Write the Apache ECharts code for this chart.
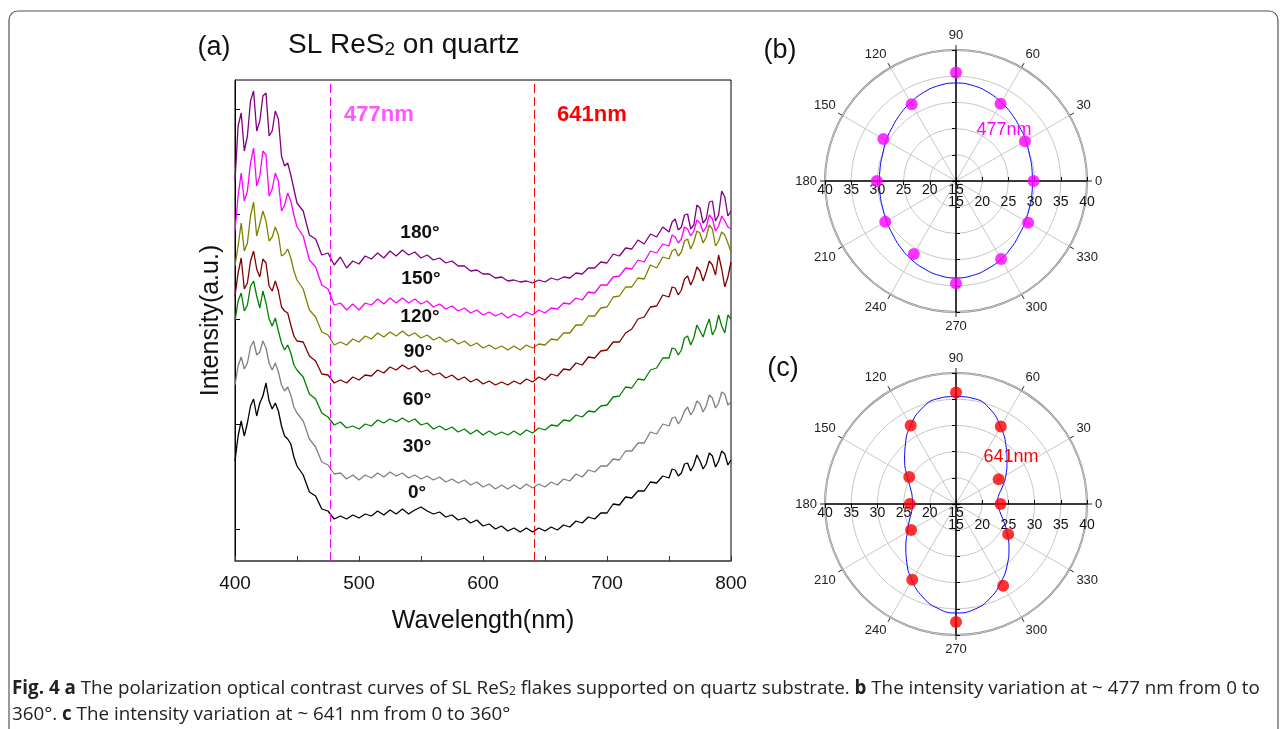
<!DOCTYPE html>
<html>
<head>
<meta charset="utf-8">
<script src="https://cdn.jsdelivr.net/npm/echarts@6/dist/echarts.min.js"></script>
<style>
html, body { margin: 0; padding: 0; background: #fff; }
#main { width: 1284px; height: 729px; }
</style>
</head>
<body>
<div id="main"></div>
<script>
// wavelength (nm): 2.5 nm at the noisy ends, 5 nm in the middle
var wavelength = [400,402.5,405,407.5,410,412.5,415,417.5,420,422.5,425,427.5,430,432.5,435,437.5,440,442.5,445,447.5,450,
  455,460,465,470,475,480,485,490,495,
  500,505,510,515,520,525,530,535,540,545,550,555,560,565,570,575,580,585,590,595,
  600,605,610,615,620,625,630,635,640,645,650,655,660,665,670,675,680,685,690,695,
  700,705,710,715,720,725,730,735,740,745,
  750,752.5,755,757.5,760,762.5,765,767.5,770,772.5,775,777.5,780,782.5,785,787.5,790,792.5,795,797.5,800];

// stacked contrast curves (arbitrary units, offset per angle)
var deg180 = [38.0,43.5,44.8,41.0,42.5,46.0,47.0,43.0,44.0,46.5,46.8,42.5,43.0,45.0,44.2,40.5,39.5,39.8,38.6,37.2,35.8,
  35.0,32.6,32.2,30.6,30.8,29.6,30.4,29.3,30.0,
  29.7,30.5,30.2,30.8,30.3,31.0,30.5,31.1,30.6,30.9,30.3,30.6,30.1,30.3,29.8,30.0,29.5,29.5,29.0,29.1,
  28.7,28.7,28.3,28.4,28.0,28.1,27.9,28.0,27.8,28.1,27.9,28.3,28.1,28.4,28.3,28.8,28.7,29.3,29.3,29.9,
  29.8,30.7,30.5,31.3,31.2,32.1,31.7,32.7,32.4,33.4,
  32.9,33.9,34.2,33.1,33.4,34.6,34.7,33.2,33.6,35.6,35.3,33.8,34.2,35.9,36.0,34.0,34.6,37.0,36.4,34.5,35.0];
var deg150 = [33.0,36.5,38.8,36.0,37.0,39.8,41.3,37.5,38.5,41.0,40.6,36.5,37.2,38.8,38.0,35.0,35.6,36.8,36.0,34.6,33.4,
  32.5,30.1,29.4,27.6,27.2,25.6,25.8,25.1,25.7,
  25.1,25.8,25.6,26.2,25.7,26.3,25.8,26.3,25.8,26.2,25.7,26.0,25.4,25.7,25.2,25.5,25.0,25.3,24.8,25.1,
  24.6,24.9,24.5,24.8,24.3,24.7,24.4,24.9,24.6,25.1,24.8,25.3,25.2,25.8,25.7,26.3,26.1,26.9,26.8,27.6,
  27.6,28.4,28.5,29.3,29.2,30.1,29.9,31.0,30.8,31.7,
  31.5,32.6,32.4,31.8,32.2,33.4,33.2,32.5,33.0,34.1,33.8,32.9,33.4,34.6,34.2,33.0,33.5,34.5,34.0,33.4,33.2];
var deg120 = [29.5,31.5,33.8,31.0,31.8,34.5,35.9,32.5,33.7,35.0,34.0,32.0,32.4,33.4,32.6,30.5,30.7,31.2,30.3,29.0,28.1,
  27.2,25.1,24.4,22.9,22.6,21.6,21.9,21.6,22.2,
  21.9,22.5,22.2,22.8,22.4,22.9,22.5,23.0,22.5,22.8,22.3,22.6,22.1,22.4,21.9,22.2,21.7,22.0,21.5,21.8,
  21.3,21.6,21.2,21.5,21.1,21.5,21.1,21.6,21.3,21.7,21.6,22.2,22.1,22.8,22.8,23.6,23.6,24.5,24.5,25.3,
  25.4,26.4,26.5,27.4,27.4,28.3,28.2,29.6,29.3,30.4,
  30.2,31.0,31.2,30.5,30.9,32.0,32.2,31.2,31.9,33.0,32.8,31.8,32.4,33.6,33.2,31.5,32.0,32.9,32.6,31.8,30.9];
var deg90 = [26.5,28.8,30.3,27.2,27.8,30.0,31.0,29.2,28.4,30.2,29.8,27.5,27.0,28.0,27.0,25.4,25.0,24.8,23.6,22.5,22.0,
  21.9,20.5,20.0,18.7,18.6,17.8,18.1,17.8,18.4,
  18.1,18.6,18.5,19.1,18.8,19.4,19.1,19.6,19.2,19.5,18.9,19.1,18.6,18.8,18.3,18.6,18.1,18.4,17.9,18.2,
  17.7,18.0,17.6,17.9,17.6,18.0,17.7,18.2,17.9,18.4,18.1,18.7,18.5,19.2,19.1,19.8,19.6,20.4,20.3,21.0,
  21.1,21.9,21.9,22.8,23.2,24.2,24.4,25.4,25.5,26.6,
  26.4,27.4,27.3,26.6,27.1,28.2,28.5,27.6,28.3,29.4,29.0,28.0,28.9,30.0,29.6,28.6,30.6,29.2,27.4,28.4,29.9];
var deg60 = [24.0,26.0,26.8,25.0,25.6,27.5,28.0,26.5,25.3,27.0,25.8,24.2,23.5,24.3,23.0,21.8,21.1,21.6,20.8,19.6,19.1,
  18.4,16.7,16.2,14.8,14.4,13.6,13.9,13.3,13.5,
  13.2,13.7,13.5,14.1,13.8,14.2,13.9,14.3,13.9,14.2,13.6,13.8,13.2,13.5,13.1,13.4,12.9,13.2,12.7,13.1,
  12.6,13.0,12.6,12.9,12.6,13.0,12.6,13.1,12.8,13.3,13.1,13.6,13.5,14.1,14.0,14.6,14.4,15.0,14.9,15.5,
  15.6,16.4,16.5,17.4,17.3,18.2,18.1,19.1,19.3,20.3,
  20.3,21.3,21.2,20.6,21.1,22.3,22.5,21.6,22.3,23.6,23.0,22.4,23.4,24.2,22.6,23.2,24.6,23.5,22.8,24.6,24.2];
var deg30 = [17.6,19.5,20.4,19.2,19.8,21.4,22.0,20.6,20.9,22.0,21.3,19.8,19.1,19.8,18.9,17.6,17.0,17.4,16.6,15.4,14.8,
  14.0,12.2,11.4,9.9,9.6,8.7,8.8,8.2,8.6,
  8.1,8.6,8.3,8.8,8.4,8.9,8.5,8.8,8.3,8.6,8.2,8.5,8.1,8.4,7.9,8.2,7.8,8.1,7.6,7.9,
  7.4,7.7,7.2,7.6,7.2,7.6,7.2,7.7,7.3,7.7,7.4,7.9,7.6,8.2,8.0,8.7,8.4,9.1,8.9,9.5,
  9.5,10.2,10.1,11.0,11.0,11.8,11.8,12.9,12.7,13.7,
  13.5,14.3,14.4,13.7,14.2,15.0,15.4,14.6,15.1,16.0,15.7,14.9,15.5,16.6,16.3,15.3,15.8,16.9,16.7,15.6,15.9];
var deg0 = [10.0,12.5,14.0,12.5,13.8,15.5,16.2,14.5,15.8,16.5,17.8,16.0,15.2,15.8,15.0,13.5,12.5,12.2,11.7,10.4,9.5,
  8.6,6.9,6.5,5.2,5.0,4.2,4.5,4.2,4.6,
  4.3,4.7,4.5,5.0,4.6,5.1,4.7,5.2,4.7,5.1,5.4,5.0,4.7,4.9,4.4,4.6,4.1,4.3,3.8,4.1,
  3.5,3.7,3.2,3.5,3.0,3.3,2.9,3.3,2.9,3.3,3.0,3.4,3.1,3.6,3.4,4.0,3.8,4.4,4.2,4.8,
  4.8,5.7,5.6,6.4,6.3,7.0,7.0,7.9,7.8,8.5,
  8.3,9.2,9.1,8.5,8.8,9.7,9.8,9.0,9.6,10.6,10.0,9.2,9.7,10.8,10.5,9.4,10.0,11.0,10.7,9.6,10.1];

var curveNames = ['0°', '30°', '60°', '90°', '120°', '150°', '180°'];
var curveColors = ['#000000', '#808080', '#008000', '#800000', '#808000', '#ff00ff', '#800080'];
var yTicks = [3.17, 13.67, 24.17, 34.67, 45.17];
var markWavelengths = [477, 641];

// polar panels: measured points every 30 deg and fitted curve every 10 deg
var dotAngles = [0, 30, 60, 90, 120, 150, 180, 210, 240, 270, 300, 330];
var dots477 = [29.8, 30.2, 32.0, 35.7, 31.9, 31.0, 30.1, 30.6, 31.1, 34.5, 32.2, 30.9];
var dots641 = [23.5, 24.4, 32.1, 36.3, 32.3, 25.3, 23.8, 24.9, 31.7, 37.5, 33.0, 26.5];
var fitAngles = [0,10,20,30,40,50,60,70,80,90,100,110,120,130,140,150,160,170,180,
  190,200,210,220,230,240,250,260,270,280,290,300,310,320,330,340,350,360];
var fit477 = [29.6,29.7,29.9,30.4,30.9,31.6,32.3,33.0,33.5,33.7,33.5,33.0,32.3,31.6,30.9,30.4,29.9,29.7,29.6,
  29.7,29.9,30.3,30.8,31.5,32.2,32.8,33.3,33.5,33.3,32.8,32.2,31.5,30.8,30.3,29.9,29.7,29.6];
var fit641 = [22.9,23.2,24.4,26.0,27.7,29.8,32.0,34.2,35.4,35.5,35.4,34.3,32.3,30.0,27.8,25.8,24.3,23.5,23.3,
  23.6,24.5,25.7,27.5,29.6,31.8,33.8,35.2,35.8,35.4,34.1,32.2,30.2,28.2,26.3,24.7,23.5,22.9];

var spectra = [deg0, deg30, deg60, deg90, deg120, deg150, deg180];

var FONT = 'Liberation Sans';
var myChart = echarts.init(document.getElementById('main'));

function pairs(xs, ys) {
    return xs.map(function (x, i) { return [x, ys[i]]; });
}
function polarPairs(angles, rs) {
    return angles.map(function (a, i) { return [rs[i], a]; });
}

var series = [];
spectra.forEach(function (s, i) {
    series.push({
        name: curveNames[i],
        type: 'line',
        data: pairs(wavelength, s),
        showSymbol: false,
        lineStyle: { width: 1.3, color: curveColors[i] },
        itemStyle: { color: curveColors[i] },
        z: 3
    });
});
// vertical dashed markers
series[0].markLine = {
    silent: true,
    symbol: 'none',
    label: { show: false },
    data: [
        { xAxis: markWavelengths[0], lineStyle: { color: '#ff00ff', type: [9, 4], width: 1 } },
        { xAxis: markWavelengths[1], lineStyle: { color: '#ff0000', type: [9, 4], width: 1 } }
    ]
};

// four polar systems per panel: main (angle axis + right radius), left, up, down
var polars = [], angleAxes = [], radiusAxes = [];
var panels = [
    { cy: 181, dots: dots477, fit: fit477, color: '#ff00ff' },
    { cy: 504, dots: dots641, fit: fit641, color: '#ff0000' }
];
panels.forEach(function (p, k) {
    [0, 180, 90, 270].forEach(function (start, j) {
        var idx = k * 4 + j;
        polars.push({ center: [956, p.cy], radius: 131 });
        angleAxes.push({
            polarIndex: idx,
            show: j === 0,
            type: 'value',
            startAngle: start,
            clockwise: false,
            min: 0, max: 360, interval: 30,
            axisLine: { lineStyle: { color: '#8a8a8a', width: 2 } },
            axisTick: { show: true, length: 5, lineStyle: { color: '#222' } },
            axisLabel: { color: '#222', fontSize: 13, fontFamily: FONT, margin: 8,
                formatter: function (v) { return v === 360 ? '' : v; } },
            splitLine: { show: true, lineStyle: { color: '#c8c8c8', width: 1 } },
            z: 1
        });
        radiusAxes.push({
            polarIndex: idx,
            type: 'value',
            min: 15, max: 40, interval: 5,
            axisLine: { show: true, lineStyle: { color: '#000', width: 1.5 } },
            axisTick: { show: true, length: 4, lineStyle: { color: '#000' } },
            axisLabel: { show: j < 2, color: '#111', fontSize: 14, fontFamily: FONT,
                margin: j === 0 ? -28 : 2 },
            splitLine: { show: j === 0, lineStyle: { color: '#c8c8c8', width: 1 } },
            z: 2
        });
    });
    series.push({
        type: 'line',
        coordinateSystem: 'polar',
        polarIndex: k * 4,
        data: polarPairs(fitAngles, p.fit),
        smooth: true,
        showSymbol: false,
        lineStyle: { color: '#0000ff', width: 1 },
        z: 4
    });
    series.push({
        type: 'scatter',
        coordinateSystem: 'polar',
        polarIndex: k * 4,
        data: polarPairs(dotAngles, p.dots),
        symbolSize: 12,
        itemStyle: { color: p.color },
        z: 5
    });
});

var capStyle = { fontSize: 18.8, fontFamily: 'Open Sans', fill: '#222' };
var option = {
    animation: false,
    backgroundColor: '#fff',
    textStyle: { fontFamily: FONT },
    grid: { left: 235, right: 553, top: 80, bottom: 168, show: true, borderColor: '#000', borderWidth: 1 },
    xAxis: {
        type: 'value',
        min: 400, max: 800, interval: 50,
        name: 'Wavelength(nm)',
        nameLocation: 'middle',
        nameGap: 48,
        nameTextStyle: { fontSize: 25, color: '#111', fontFamily: FONT },
        axisLine: { lineStyle: { color: '#555', width: 1.5 } },
        axisTick: { inside: true, length: 5, lineStyle: { color: '#333' } },
        axisLabel: { fontSize: 19, color: '#111', margin: 13, fontFamily: FONT,
            formatter: function (v) { return v % 100 === 0 ? v : ''; } },
        splitLine: { show: false }
    },
    yAxis: {
        type: 'value',
        min: 0, max: 48.1,
        name: 'Intensity(a.u.)',
        nameLocation: 'middle',
        nameGap: 11,
        nameTextStyle: { fontSize: 25, color: '#111', fontFamily: FONT },
        axisLine: { show: true, lineStyle: { color: '#000', width: 1 } },
        axisTick: { show: true, inside: true, length: 5, customValues: yTicks, lineStyle: { color: '#000' } },
        axisLabel: { show: false },
        splitLine: { show: false }
    },
    polar: polars,
    angleAxis: angleAxes,
    radiusAxis: radiusAxes,
    series: series,
    graphic: [
        { type: 'rect', shape: { x: 9, y: 11, width: 1269, height: 740, r: 9 },
          style: { fill: null, stroke: '#555', lineWidth: 1.2 }, silent: true },
        { type: 'text', x: 214, y: 48, style: { text: '(a)', font: '27px ' + FONT, fill: '#111', align: 'center', verticalAlign: 'middle' } },
        { type: 'text', left: 288, top: 31, style: {
            text: '{m|SL ReS}{s|2}{m| on quartz}',
            rich: { m: { fontSize: 28, fontFamily: FONT, fill: '#111', verticalAlign: 'bottom', lineHeight: 32 },
                    s: { fontSize: 19, fontFamily: FONT, fill: '#111', verticalAlign: 'bottom', lineHeight: 29 } } } },
        { type: 'text', left: 344, top: 104, style: { text: '477nm', font: 'bold 22px ' + FONT, fill: '#ff55ff' } },
        { type: 'text', left: 557, top: 104, style: { text: '641nm', font: 'bold 22px ' + FONT, fill: '#ff0000' } },
        { type: 'text', x: 420, y: 233, style: { text: '180°', font: 'bold 19px ' + FONT, fill: '#111', align: 'center', verticalAlign: 'middle' } },
        { type: 'text', x: 421, y: 279, style: { text: '150°', font: 'bold 19px ' + FONT, fill: '#111', align: 'center', verticalAlign: 'middle' } },
        { type: 'text', x: 420, y: 317, style: { text: '120°', font: 'bold 19px ' + FONT, fill: '#111', align: 'center', verticalAlign: 'middle' } },
        { type: 'text', x: 418, y: 352, style: { text: '90°', font: 'bold 19px ' + FONT, fill: '#111', align: 'center', verticalAlign: 'middle' } },
        { type: 'text', x: 417, y: 400, style: { text: '60°', font: 'bold 19px ' + FONT, fill: '#111', align: 'center', verticalAlign: 'middle' } },
        { type: 'text', x: 417, y: 447, style: { text: '30°', font: 'bold 19px ' + FONT, fill: '#111', align: 'center', verticalAlign: 'middle' } },
        { type: 'text', x: 417, y: 493, style: { text: '0°', font: 'bold 19px ' + FONT, fill: '#111', align: 'center', verticalAlign: 'middle' } },
        { type: 'text', x: 780, y: 51, style: { text: '(b)', font: '27px ' + FONT, fill: '#111', align: 'center', verticalAlign: 'middle' } },
        { type: 'text', x: 783, y: 369, style: { text: '(c)', font: '27px ' + FONT, fill: '#111', align: 'center', verticalAlign: 'middle' } },
        { type: 'text', x: 1004, y: 130, z: 10, style: { text: '477nm', font: '18px ' + FONT, fill: '#ff00ff', align: 'center', verticalAlign: 'middle' } },
        { type: 'text', x: 1011, y: 457, z: 10, style: { text: '641nm', font: '18px ' + FONT, fill: '#ff0000', align: 'center', verticalAlign: 'middle' } },
        { type: 'text', left: 12, top: 679, style: {
            text: '{b|Fig. 4 a}{n| The polarization optical contrast curves of SL ReS}{s|2}{n| flakes supported on quartz substrate. }{b|b}{n| The intensity variation at ~ 477 nm from 0 to}',
            rich: { n: Object.assign({ verticalAlign: 'bottom', lineHeight: 25 }, capStyle),
                    b: Object.assign({ fontWeight: 'bold', verticalAlign: 'bottom', lineHeight: 25 }, capStyle),
                    s: { fontSize: 12, fontFamily: 'Open Sans', fill: '#222', verticalAlign: 'bottom', lineHeight: 20 } } } },
        { type: 'text', left: 12, top: 705, style: {
            text: '{n|360°. }{b|c}{n| The intensity variation at ~ 641 nm from 0 to 360°}',
            rich: { n: capStyle,
                    b: Object.assign({ fontWeight: 'bold' }, capStyle) } } }
    ]
};
myChart.setOption(option);
window.onresize = myChart.resize;
</script>
</body>
</html>
